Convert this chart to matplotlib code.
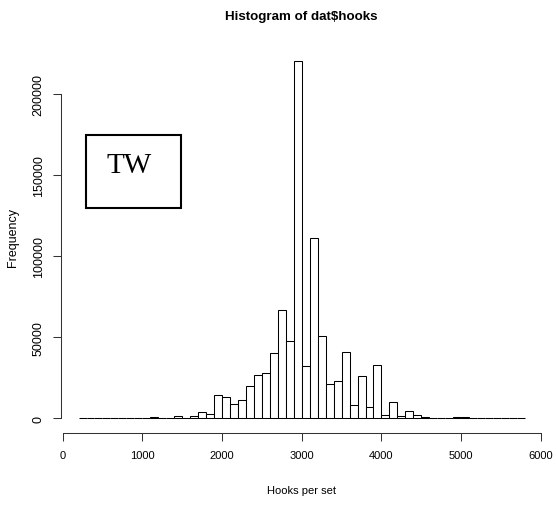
import numpy as np
import matplotlib.pyplot as plt
from matplotlib.patches import Rectangle

plt.rcParams['font.family'] = ['Liberation Sans', 'DejaVu Sans']

# histogram breaks (hooks per set) and counts
breaks = np.arange(200, 5801, 100)
counts = [0, 0, 0, 0, 0, 0, 0, 0, 0,            # 200-1100
          600, 0, 0, 1600, 400, 1600, 4100, 2900, # 1100-1900
          14200, 13400, 9000, 11100, 20200, 26700, 27600, 40300,  # 1900-2700
          67000, 47900, 220300, 32300, 110900, 50400, 21200, 22700,  # 2700-3500
          40700, 8200, 26100, 7200, 32700, 2300, 10100, 1600,  # 3500-4300
          4700, 2300, 1000, 400, 400, 0, 500, 500,  # 4300-5100
          0, 0, 0, 0, 0, 0, 0]                    # 5100-5800

xticks = [0, 1000, 2000, 3000, 4000, 5000, 6000]
yticks = [0, 50000, 100000, 150000, 200000]
ytop = 226400  # y range used by the original plot

W, H = 556, 506
fig = plt.figure(figsize=(W / 100, H / 100), dpi=100)
ax = fig.add_axes([60.7 / W, 1 - 434 / H, (542.8 - 60.7) / W, (434 - 37.1) / H])

ax.bar(breaks[:-1], counts, width=100, align='edge', facecolor='white',
       edgecolor='black', linewidth=0.75)

# R style axes: 4% padding, no box
rng = breaks[-1] - breaks[0]
ax.set_xlim(breaks[0] - 0.04 * rng, breaks[-1] + 0.04 * rng)
ax.set_ylim(-0.04 * ytop, 1.04 * ytop)

for s in ['top', 'right']:
    ax.spines[s].set_visible(False)
ax.spines['bottom'].set_bounds(xticks[0], xticks[-1])
ax.spines['left'].set_bounds(yticks[0], yticks[-1])
for s in ['bottom', 'left']:
    ax.spines[s].set_linewidth(0.75)
    ax.spines[s].set_color('#333333')

ax.set_xticks(xticks)
ax.set_yticks(yticks)
ax.set_yticklabels([str(v) for v in yticks], rotation=90, va='center')
ax.tick_params(axis='both', direction='out', length=6, width=0.75,
               color='#333333', pad=6.5)
ax.tick_params(axis='x', labelsize=8)
ax.tick_params(axis='y', labelsize=9, pad=5.5)

# the "TW" box
ax.add_patch(Rectangle((289, 129500), 1484 - 289, 174300 - 129500,
                       facecolor='none', edgecolor='black', linewidth=1.5))
ax.text(829, 155800, 'TW', ha='center', va='center', fontsize=21,
        family='Liberation Serif')

fig.text(301.5 / W, 1 - 17 / H, 'Histogram of dat$hooks', ha='center',
         va='center', fontsize=9.6, fontweight='bold')
fig.text(301.5 / W, 1 - 491 / H, 'Hooks per set', ha='center', va='center',
         fontsize=8)
fig.text(13.5 / W, 1 - 238 / H, 'Frequency', ha='center', va='center',
         fontsize=9, rotation=90)

fig.savefig('out.png', dpi=100)
